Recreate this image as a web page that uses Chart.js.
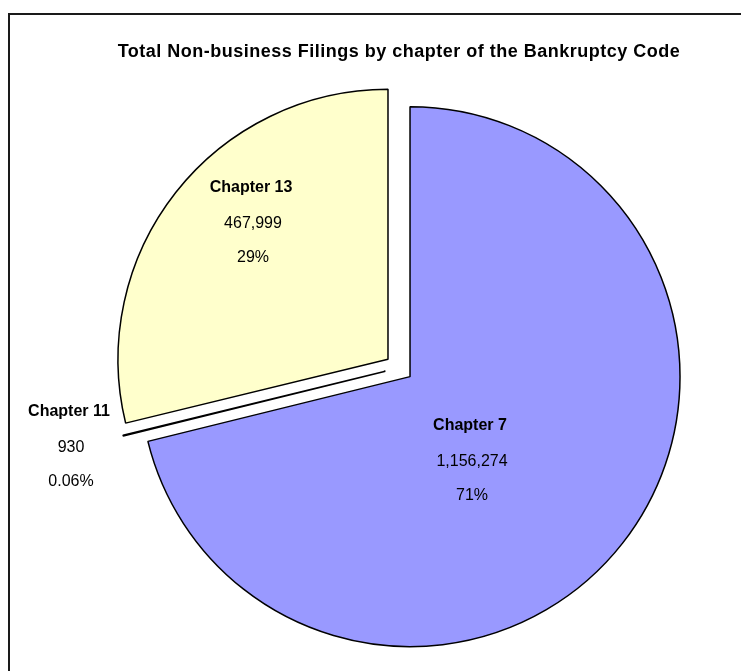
<!DOCTYPE html>
<html>
<head>
<meta charset="utf-8">
<title>Total Non-business Filings</title>
<script src="https://cdn.jsdelivr.net/npm/chart.js@4/dist/chart.umd.min.js"></script>
<style>
  html, body { margin: 0; padding: 0; background: #fff; }
  #wrap { position: relative; width: 741px; height: 671px; overflow: hidden; }
  #frame {
    position: absolute; left: 8px; top: 13px; width: 900px; height: 900px;
    border-left: 2px solid #1a1a1a; border-top: 2px solid #1a1a1a;
  }
  canvas { position: absolute; left: 0; top: 0; }
</style>
</head>
<body>
<div id="wrap">
  <div id="frame"></div>
  <canvas id="pieChart" width="741" height="671"></canvas>
</div>
<script>
// ---------------- Data ----------------

const categories = ["Chapter 7", "Chapter 11", "Chapter 13"];

const filings = [1156274, 930, 467999];

const sliceColors = ["#9999FF", "#993366", "#FFFFCC"];

const chartTitle = "Total Non-business Filings by chapter of the Bankruptcy Code";

// ---------------- Layout constants ----------------

const PIE_RADIUS = 270;
const EXPLODE = 14;

// label anchor, relative to pie centre (px)
const labelOffsets = [
    { dx: 71, dy: 58 },
    { dx: -330, dy: 44 },
    { dx: -148, dy: -180 }
];

const FONT = "Arial, 'Liberation Sans', sans-serif";

function formatPercent(value, total) {
    const pct = value / total * 100;
    return pct < 1 ? pct.toFixed(2) + "%" : Math.round(pct) + "%";
}

// pull every slice away from the centre, like an exploded Excel pie
const explodePlugin = {
    id: "explode",
    beforeDatasetsDraw(chart) {
        const area = chart.chartArea;
        const cx = (area.left + area.right) / 2;
        const cy = (area.top + area.bottom) / 2;
        chart.getDatasetMeta(0).data.forEach(arc => {
            const mid = (arc.startAngle + arc.endAngle) / 2;
            arc.x = cx + Math.cos(mid) * EXPLODE;
            arc.y = cy + Math.sin(mid) * EXPLODE;
        });
    }
};

// title letter spacing (title box is drawn before datasets)
const spacingPlugin = {
    id: "titleSpacing",
    beforeDraw(chart) {
        chart.ctx.letterSpacing = "0.5px";
    },
    beforeDatasetsDraw(chart) {
        chart.ctx.letterSpacing = "0px";
    }
};

// data labels: name, value, percent
const labelPlugin = {
    id: "sliceLabels",
    afterDatasetsDraw(chart) {
        const ctx = chart.ctx;
        const area = chart.chartArea;
        const cx = (area.left + area.right) / 2;
        const cy = (area.top + area.bottom) / 2;
        const data = chart.data.datasets[0].data;
        const total = data.reduce((a, b) => a + b, 0);

        ctx.save();
        ctx.letterSpacing = "0px";
        ctx.fillStyle = "#000";
        ctx.textAlign = "center";
        ctx.textBaseline = "middle";

        chart.data.labels.forEach((label, i) => {
            const x = cx + labelOffsets[i].dx;
            const y = cy + labelOffsets[i].dy;

            ctx.font = "bold 16px " + FONT;
            ctx.fillText(label, x, y);

            ctx.font = "16px " + FONT;
            ctx.fillText(data[i].toLocaleString("en-US"), x + 2, y + 36);
            ctx.fillText(formatPercent(data[i], total), x + 2, y + 70);
        });

        ctx.restore();
    }
};

const ctx = document.getElementById("pieChart").getContext("2d");

new Chart(ctx, {

    type: "pie",

    data: {
        labels: categories,
        datasets: [
            {
                data: filings,
                backgroundColor: sliceColors,
                borderColor: "#000",
                borderWidth: 1.5
            }
        ]
    },

    options: {
        responsive: false,
        animation: false,
        radius: PIE_RADIUS,
        layout: {
            padding: { left: 57, top: 0, right: 0, bottom: 0 }
        },
        plugins: {
            legend: { display: false },
            tooltip: { enabled: false },
            title: {
                display: true,
                text: chartTitle,
                color: "#000",
                font: { family: FONT, size: 18, weight: "bold" },
                padding: { top: 41.2, bottom: 2.2 }
            }
        }
    },

    plugins: [explodePlugin, spacingPlugin, labelPlugin]

});
</script>
</body>
</html>
